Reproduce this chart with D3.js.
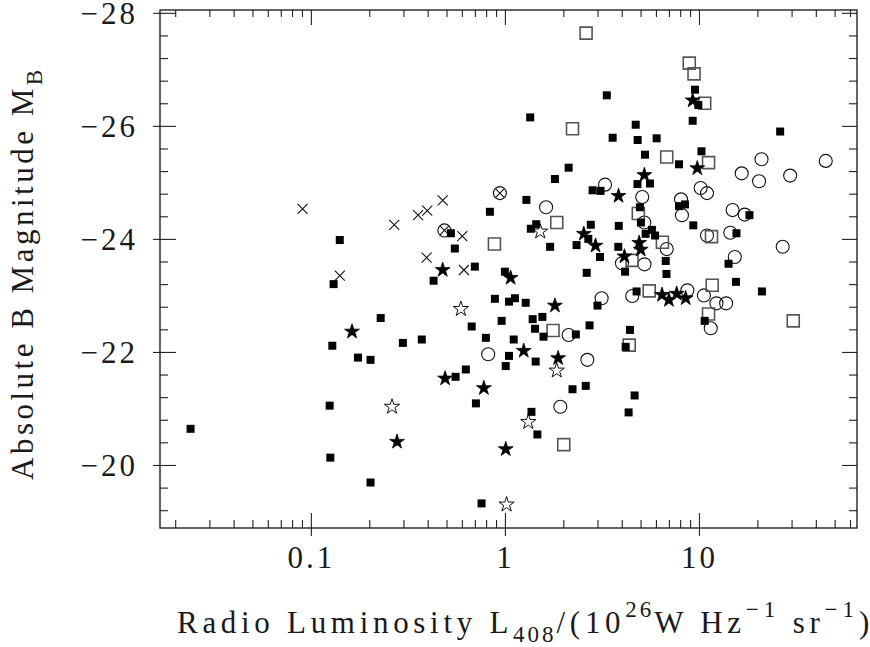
<!DOCTYPE html>
<html>
<head>
<meta charset="utf-8">
<script src="https://cdn.jsdelivr.net/npm/d3@7"></script>
<style>
body { margin:0; background:#fff; }
text { font-family:"Liberation Serif", serif; fill:#1a1a1a; }
</style>
</head>
<body>
<svg id="chart" width="870" height="647"></svg>
<script>
// points are [L408 in 1e26 W/Hz/sr, M_B]
var filledSquares = [
  [0.024,-20.64],[0.141,-23.98],[0.131,-23.20],[0.129,-22.11],[0.125,-21.05],[0.126,-20.13],
  [0.203,-19.69],[0.175,-21.90],[0.203,-21.86],[0.229,-22.60],[0.298,-22.16],[0.373,-22.22],
  [0.429,-23.26],[0.527,-24.10],[0.552,-23.83],[0.700,-23.51],[0.837,-24.48],[1.00,-23.42],
  [0.888,-22.94],[1.05,-22.89],[1.126,-22.95],[0.962,-22.55],[0.674,-22.45],[0.798,-22.25],
  [1.05,-21.93],[1.01,-21.75],[0.629,-21.69],[0.557,-21.56],[0.709,-21.09],[0.758,-19.32],
  [1.28,-22.87],[1.39,-22.58],[1.56,-22.62],[1.43,-22.41],[1.58,-22.27],[1.11,-22.22],
  [1.44,-21.83],[1.37,-20.94],[1.47,-20.54],[2.23,-21.34],[2.61,-21.40],[2.32,-22.31],
  [2.73,-22.47],[3.00,-22.82],[4.41,-22.39],[4.19,-22.09],[4.66,-21.23],[4.34,-20.93],
  [10.7,-22.55],[15.5,-23.24],[21.1,-23.07],[14.2,-23.56],[15.6,-24.10],[18.2,-24.42],
  [9.35,-24.24],[6.74,-23.61],[6.80,-23.38],[4.16,-23.42],[2.64,-23.40],[3.09,-23.68],
  [3.84,-23.86],[2.34,-23.89],[1.71,-23.86],[2.69,-24.00],[2.77,-24.25],[3.86,-24.23],
  [1.45,-24.26],[1.36,-24.18],[4.96,-24.56],[5.02,-24.29],[5.31,-24.09],[5.72,-24.16],
  [5.94,-24.06],[7.89,-24.58],[8.47,-24.61],[4.82,-24.97],[5.59,-24.98],[2.83,-24.86],
  [3.11,-24.85],[1.29,-24.69],[1.81,-25.06],[2.13,-25.26],[5.27,-25.49],[7.89,-25.32],
  [10.3,-25.55],[3.59,-25.79],[4.83,-25.75],[6.05,-25.78],[4.72,-26.02],[1.35,-26.15],
  [3.35,-26.54],[9.28,-26.09],[9.54,-26.64],[9.92,-26.37],[26.2,-25.90],[4.77,-23.07]
];
var openSquares = [
  [2.62,-27.64],[8.91,-27.11],[9.43,-26.92],[10.7,-26.40],[2.23,-25.95],[6.82,-25.45],
  [11.2,-25.35],[1.85,-24.29],[0.883,-23.91],[4.87,-24.45],[6.48,-23.94],[11.6,-24.04],
  [4.52,-23.62],[5.54,-23.08],[11.7,-23.18],[11.2,-22.67],[30.6,-22.55],[1.77,-22.38],
  [4.37,-22.12],[2.01,-20.36]
];
var openCircles = [
  [0.820,-21.96],[1.63,-24.56],[3.28,-24.96],[5.10,-24.74],[8.08,-24.70],[8.17,-24.42],
  [10.2,-24.90],[11.0,-24.81],[16.6,-25.16],[20.4,-25.02],[21.0,-25.41],[29.5,-25.12],
  [45.0,-25.38],[5.23,-24.29],[14.9,-24.51],[17.2,-24.43],[14.5,-24.11],[11.0,-24.06],
  [6.82,-23.82],[27.0,-23.86],[15.3,-23.68],[4.01,-23.57],[5.24,-23.55],[3.15,-22.95],
  [4.53,-22.99],[8.71,-23.09],[10.6,-23.00],[12.3,-22.86],[13.8,-22.86],[11.5,-22.42],
  [2.13,-22.30],[2.66,-21.86],[1.93,-21.03]
];
var filledStars = [
  [0.478,-23.45],[0.163,-22.36],[0.278,-20.41],[0.492,-21.53],[0.779,-21.36],[1.01,-20.28],
  [1.07,-23.31],[1.25,-22.02],[1.88,-21.89],[1.81,-22.82],[2.55,-24.09],[2.93,-23.88],
  [3.85,-24.76],[5.23,-25.13],[4.92,-23.93],[5.01,-23.81],[4.13,-23.69],[6.45,-23.01],
  [7.00,-22.92],[7.68,-23.03],[8.54,-22.95],[9.80,-25.25],[9.28,-26.45]
];
var openStars = [
  [0.593,-22.76],[0.262,-21.03],[1.02,-19.30],[1.32,-20.76],[1.85,-21.67],[1.52,-24.13]
];
var crosses = [
  [0.0906,-24.53],[0.141,-23.35],[0.269,-24.25],[0.357,-24.42],[0.398,-24.50],
  [0.478,-24.68],[0.603,-24.05],[0.395,-23.67],[0.615,-23.45]
];
var crossedCircles = [[0.942,-24.81],[0.488,-24.15]];

var xMajor = [0.1, 1, 10];
var yMajor = [-28, -26, -24, -22, -20];
var xDomain = [0.0167, 65.2];
var yDomain = [-28.05, -18.885];

var margin = { left:160, right:13, top:10, bottom:119 };
var width = 870 - margin.left - margin.right,
    height = 647 - margin.top - margin.bottom;

var svg = d3.select("#chart");
var g = svg.append("g")
    .attr("transform", "translate(" + margin.left + "," + margin.top + ")");

// Scales
var x = d3.scaleLog().domain(xDomain).range([0, width]);
var y = d3.scaleLinear().domain(yDomain).range([0, height]);

// minor ticks
var xMinor = [];
[0.01, 0.1, 1, 10].forEach(function(dec){
    for (var k = 2; k <= 9; k++) {
        var v = dec * k;
        if (v > xDomain[0] && v < xDomain[1]) xMinor.push(v);
    }
});
var yMinor = d3.range(0, 23).filter(function(i){ return i % 5 !== 0; })
    .map(function(i){ return -28 + 0.4 * i; });

function tidy(sel) {
    sel.select(".domain").remove();
    sel.selectAll(".tick line").attr("stroke", "#222").attr("stroke-width", 1.1);
}

// Bottom axis
g.append("g").attr("transform", "translate(0," + height + ")")
    .call(d3.axisBottom(x).tickValues(xMinor).tickSize(-8).tickFormat(""))
    .call(tidy);
var xAxis = g.append("g").attr("transform", "translate(0," + height + ")")
    .call(d3.axisBottom(x).tickValues(xMajor).tickSize(-15).tickFormat(d3.format("~g")))
    .call(tidy);
xAxis.selectAll(".tick line").attr("y1", 8);
xAxis.selectAll(".tick text")
    .attr("y", 40).attr("dy", null)
    .attr("font-family", "Liberation Serif").attr("font-size", 31)
    .attr("letter-spacing", 3).attr("fill", "#1a1a1a");

// Top axis
g.append("g")
    .call(d3.axisTop(x).tickValues(xMinor).tickSize(-7).tickFormat(""))
    .call(tidy);
g.append("g")
    .call(d3.axisTop(x).tickValues(xMajor).tickSize(-15).tickFormat(""))
    .call(tidy);

// Left axis
g.append("g")
    .call(d3.axisLeft(y).tickValues(yMinor).tickSize(-8).tickFormat(""))
    .call(tidy);
var yAxis = g.append("g")
    .call(d3.axisLeft(y).tickValues(yMajor).tickSize(-16).tickFormat(d3.format("d")))
    .call(tidy);
yAxis.selectAll(".tick line").attr("x1", -7);
yAxis.selectAll(".tick text")
    .attr("x", -22).attr("dy", "0.34em")
    .attr("font-family", "Liberation Serif").attr("font-size", 31)
    .attr("letter-spacing", 3).attr("fill", "#1a1a1a");

// Right axis
g.append("g").attr("transform", "translate(" + width + ",0)")
    .call(d3.axisRight(y).tickValues(yMinor).tickSize(-8).tickFormat(""))
    .call(tidy);
g.append("g").attr("transform", "translate(" + width + ",0)")
    .call(d3.axisRight(y).tickValues(yMajor).tickSize(-15).tickFormat(""))
    .call(tidy);

// Frame
g.append("rect")
    .attr("width", width).attr("height", height)
    .attr("fill", "none").attr("stroke", "#111").attr("stroke-width", 1.3);

// Markers
var symbolX = {
    draw: function(ctx, size) {
        var r = Math.sqrt(size) / 2;
        ctx.moveTo(-r, -r); ctx.lineTo(r, r);
        ctx.moveTo(r, -r); ctx.lineTo(-r, r);
    }
};

function plot(data, type, size, fill, stroke, sw) {
    g.append("g").selectAll("path")
        .data(data)
        .enter().append("path")
            .attr("transform", function(d){ return "translate(" + x(d[0]) + "," + y(d[1]) + ")"; })
            .attr("d", d3.symbol().type(type).size(size))
            .attr("fill", fill)
            .attr("stroke", stroke)
            .attr("stroke-width", sw);
}

plot(openCircles, d3.symbolCircle, 133, "none", "#111", 1.1);
plot(openSquares, d3.symbolSquare, 144, "none", "#555", 1.6);
plot(crossedCircles, d3.symbolCircle, 133, "none", "#111", 1.1);
plot(crossedCircles, symbolX, 80, "none", "#111", 1.1);
plot(crosses, symbolX, 100, "none", "#111", 1.1);
plot(openStars, d3.symbolStar, 72, "#fff", "#111", 1);
plot(filledSquares, d3.symbolSquare, 64, "#000", "none", 0);
plot(filledStars, d3.symbolStar, 68, "#000", "#000", 0.8);

// X Label
var xl = svg.append("text")
    .attr("x", 177).attr("y", 633)
    .attr("font-size", 31).attr("letter-spacing", 4.7);
xl.append("tspan").text("Radio Luminosity L");
xl.append("tspan").attr("dy", 9).attr("font-size", 23).attr("letter-spacing", 3).text("408");
xl.append("tspan").attr("dy", -9).text("/(10");
xl.append("tspan").attr("dy", -16).attr("font-size", 23).attr("letter-spacing", 3).text("26");
xl.append("tspan").attr("dy", 16).text("W Hz");
xl.append("tspan").attr("dy", -16).attr("font-size", 23).attr("letter-spacing", 5).text("\u22121");
xl.append("tspan").attr("dy", 16).text(" sr");
xl.append("tspan").attr("dy", -16).attr("font-size", 23).attr("letter-spacing", 5).text("\u22121");
xl.append("tspan").attr("dy", 16).attr("letter-spacing", 0).text(")");

// Y Label
var yl = svg.append("text")
    .attr("transform", "translate(33,480) rotate(-90)")
    .attr("font-size", 31).attr("letter-spacing", 3.5);
yl.append("tspan").text("Absolute B Magnitude M");
yl.append("tspan").attr("dy", 9).attr("font-size", 23).text("B");
</script>
</body>
</html>
